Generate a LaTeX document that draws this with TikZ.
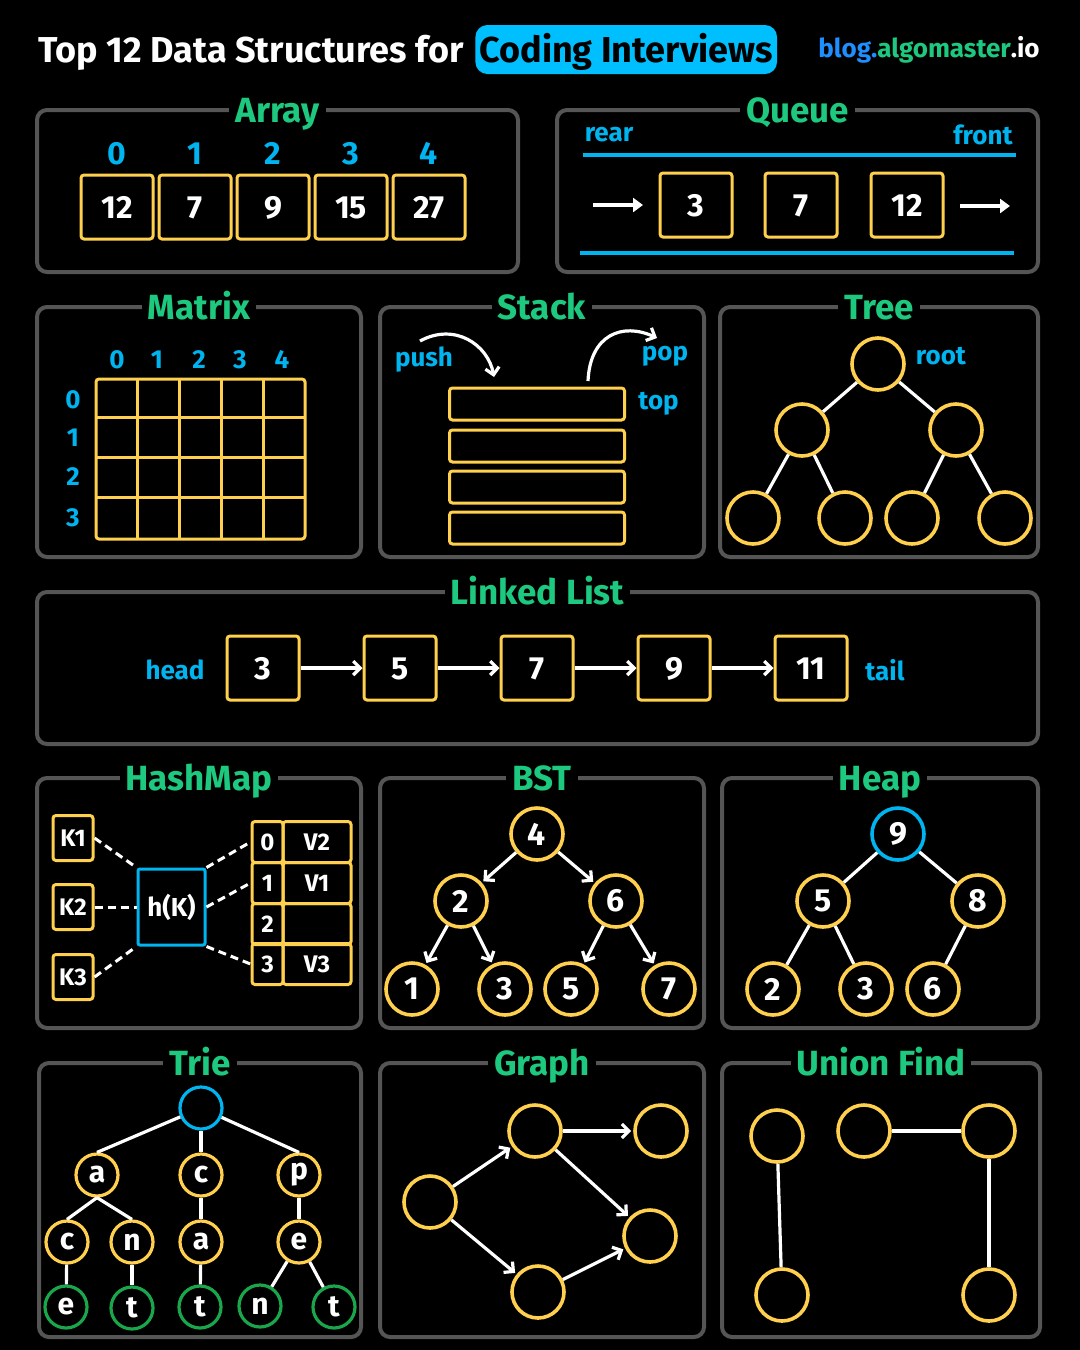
\documentclass[tikz,border=0pt]{standalone}
\usepackage{fontspec}
\setmainfont{Fira Sans}
\usetikzlibrary{arrows.meta,positioning,calc}
\definecolor{hgreen}{HTML}{1DC97E}
\definecolor{hblue}{HTML}{00B4F0}
\definecolor{hcyan}{HTML}{00BFFF}
\definecolor{bblue}{HTML}{1E8FFF}
\definecolor{yel}{HTML}{FFD04D}
\definecolor{fgray}{HTML}{555555}
\definecolor{leaf}{HTML}{1AA64A}
\newcommand{\titf}{\fontsize{18}{18}\selectfont\bfseries}
\newcommand{\secf}{\fontsize{17.5}{17.5}\selectfont\bfseries}
\newcommand{\bigf}{\fontsize{16}{16}\selectfont\bfseries}
\newcommand{\letf}{\fontsize{15}{15}\selectfont\bfseries}
\newcommand{\midf}{\fontsize{13}{13}\selectfont\bfseries}
\newcommand{\smf}{\fontsize{12}{12}\selectfont\bfseries}
\newcommand{\dspanel}[6]{\draw[panel] (#1,#2) rectangle (#3,#4);
  \node[ptitle] (#6) at ({(#1+#3)/2},#2) {#5};}
\tikzset{
  panel/.style={draw=fgray, line width=2pt, rounded corners=5pt},
  ptitle/.style={fill=black, text=hgreen, font=\secf, inner xsep=3pt, inner ysep=1pt, text height=12pt, text depth=0pt},
  cell/.style={draw=yel, line width=1.5pt, rounded corners=1.5pt, text=white, font=\bigf, minimum width=36pt, minimum height=32pt, inner sep=0pt, text height=11pt, text depth=0pt},
  idx/.style={text=hblue, font=\bigf, inner sep=0pt, text height=11pt, text depth=0pt},
  lbl/.style={text=hblue, font=\midf, inner sep=0pt},
  dot/.style={circle, draw=yel, line width=1.8pt, minimum size=26pt, inner sep=0pt, text=white, font=\bigf},
  tdot/.style={circle, draw=yel, line width=1.6pt, minimum size=21pt, inner sep=0pt, text=white, font=\letf},
  yline/.style={draw=yel, line width=1.5pt},
  edge/.style={draw=white, line width=1.6pt},
  arr/.style={edge, -{Straight Barb[length=3.5pt,width=7pt]}},
  farr/.style={edge, -{Triangle[length=5pt,width=7pt]}},
  dsh/.style={draw=white, line width=1.5pt, dash pattern=on 4pt off 2.5pt},
}
\begin{document}
\begin{tikzpicture}[x=0.5pt, y=-0.5pt]
\fill[black] (0,0) rectangle (1080,1350);
\useasboundingbox (0,0) rectangle (1080,1350);

% heading
\node[anchor=base west, text=white, font=\titf, inner sep=0pt] (ttl) at (38,62) {Top 12 Data Structures for};
\node[anchor=west, fill=hcyan, rounded corners=6pt, text=black, font=\titf, minimum height=24.5pt, inner xsep=2pt, text height=12.5pt, text depth=0pt] (hl) at (475,49.5) {Coding Interviews};
\node[anchor=base east, text=white, font=\midf, inner sep=0pt] (blog) at (1040,57) {\textcolor{bblue}{blog.}\textcolor{hgreen}{algomaster}.io};

% panels
\dspanel{37}{110}{518}{272}{Array}{tarr}
\dspanel{557}{110}{1038}{272}{Queue}{tque}
\dspanel{37}{307}{361}{557}{Matrix}{tmat}
\dspanel{380}{307}{704}{557}{Stack}{tstk}
\dspanel{720}{307}{1038}{557}{Tree}{ttre}
\dspanel{37}{592}{1038}{744}{Linked List}{tlst}
\dspanel{37}{778}{361}{1028}{HashMap}{thsh}
\dspanel{380}{778}{704}{1028}{BST}{tbst}
\dspanel{722}{778}{1038}{1028}{Heap}{thep}
\dspanel{39}{1063}{361}{1337}{Trie}{ttri}
\dspanel{380}{1063}{704}{1337}{Graph}{tgra}
\dspanel{722}{1063}{1040}{1337}{Union Find}{tuni}

% array
\foreach \v [count=\i from 0] in {12,7,9,15,27} {
  \node[cell] (a\i) at (117+78*\i,207) {\v};
  \node[idx, above=4.5pt of a\i] (ai\i) {\i};
}

% queue
\draw[draw=hblue, line width=2pt] (583,155) -- (1016,155);
\draw[draw=hblue, line width=2pt] (580,253) -- (1014,253);
\node[lbl] (rear) at (609,135) {rear};
\node[lbl] (front) at (983,135) {front};
\foreach \v/\x [count=\i] in {3/696,7/801,12/907}
  \node[cell] (q\i) at (\x,205) {\v};
\coordinate (qin) at (593,205);
\coordinate (qin2) at (643,205);
\coordinate (qout) at (960,206);
\coordinate (qout2) at (1010,206);
\draw[farr] (qin) -- (qin2);
\draw[farr] (qout) -- (qout2);

% matrix
\draw[yline, rounded corners=1.5pt] (96,379) rectangle (305,539);
\foreach \x in {137,179,221,263} \draw[yline] (\x,379) -- (\x,539);
\foreach \y in {417,457,497} \draw[yline] (96,\y) -- (305,\y);
\foreach \x [count=\i from 0] in {117,157,199,240,282}
  \node[idx, font=\midf, text height=9.5pt] (mc\i) at (\x,359) {\i};
\foreach \y [count=\i from 0] in {399,437,476,517}
  \node[idx, font=\midf, text height=9.5pt] (mr\i) at (73,\y) {\i};

% stack
\foreach \y [count=\i] in {404,446,487,528}
  \node[draw=yel, line width=1.5pt, rounded corners=1.5pt, minimum width=87.5pt, minimum height=16pt] (s\i) at (537,\y) {};
\node[lbl, right=6pt of s1] (top) {top};
\node[lbl] (push) at (424,360) {push};
\node[lbl] (pop) at (665,356) {pop};
\coordinate (pushs) at (420,341);
\coordinate (pushe) at (494,377);
\coordinate (pops) at (588,381);
\coordinate (pope) at (657,338);
\draw[arr] (pushs) .. controls (455,322) and (488,345) .. (pushe);
\draw[arr] (pops) .. controls (590,335) and (622,322) .. (pope);

% tree
\foreach \n/\x/\y in {t0/878/364,t1/802/430,t2/956/430,t3/753/518,t4/845/518,t5/912/518,t6/1005/518}
  \node[dot] (\n) at (\x,\y) {};
\foreach \a/\b in {t0/t1,t0/t2,t1/t3,t1/t4,t2/t5,t2/t6}
  \draw[edge] (\a) -- (\b);
\node[lbl] (root) at (941,356) {root};

% linked list
\foreach \v [count=\i] in {3,5,7,9,11}
  \node[cell] (l\i) at (126+137*\i,668) {\v};
\foreach \a/\b in {l1/l2,l2/l3,l3/l4,l4/l5}
  \draw[arr] (\a) -- (\b);
\node[lbl] (head) at (175,670) {head};
\node[lbl] (tail) at (885,670) {tail};

% hashmap
\foreach \i/\y in {1/838,2/907,3/977}
  \node[cell, font=\smf, text height=8.5pt, minimum width=20pt, minimum height=22.5pt] (k\i) at (73,\y) {K\i};
\node[draw=hblue, line width=1.5pt, rounded corners=1pt, minimum width=33.5pt, minimum height=38pt, text=white, font=\midf] (hash) at (171.5,907) {h(K)};
\foreach \r/\y/\v in {0/842/V2,1/883/V1,2/924/{},3/964/V3} {
  \node[cell, font=\smf, text height=8.5pt, minimum width=15.5pt, minimum height=20.5pt] (hk\r) at (267.5,\y) {\r};
  \node[cell, font=\smf, text height=8.5pt, minimum width=34pt, minimum height=20.5pt] (hv\r) at (317,\y) {\v};
}
\draw[dsh] (k1.east) -- (hash.north west);
\draw[dsh] (k2.east) -- (hash.west);
\draw[dsh] (k3.east) -- (hash.south west);
\draw[dsh] (hash.north east) -- (hk0.west);
\draw[dsh] (hash.east) -- (hk1.west);
\draw[dsh] (hash.south east) -- (hk3.west);

% bst
\foreach \n/\x/\y/\v in {b4/537/834/4,b2/461/901/2,b6/616/901/6,b1/412/989/1,b3/505/989/3,b5/571/989/5,b7/669/989/7}
  \node[dot] (\n) at (\x,\y) {\v};
\foreach \a/\b in {b4/b2,b4/b6,b2/b1,b2/b3,b6/b5,b6/b7}
  \draw[arr, shorten >=1pt] (\a) -- (\b);

% heap
\node[dot, draw=hblue] (h9) at (898,834) {9};
\foreach \n/\x/\y/\v in {h5/823/901/5,h8/978/901/8,h2/773/989/2,h3/866/989/3,h6/933/989/6}
  \node[dot] (\n) at (\x,\y) {\v};
\foreach \a/\b in {h9/h5,h9/h8,h5/h2,h5/h3,h8/h6}
  \draw[edge] (\a) -- (\b);

% trie
\node[tdot, draw=hblue] (r0) at (201,1108) {};
\foreach \n/\x/\y/\v in {ra/97/1175/a,rc/201/1175/c,rp/299/1175/p,rac/67/1242/c,ran/132/1242/n,rca/201/1242/a,rpe/299/1242/e}
  \node[tdot] (\n) at (\x,\y) {\v};
\foreach \n/\x/\y/\v in {race/66/1307/e,rant/132/1308/t,rcat/200/1307/t,rpen/260/1306/n,rpet/334/1307/t}
  \node[tdot, draw=leaf] (\n) at (\x,\y) {\v};
\draw[edge] (r0) -- (ra.north);
\draw[edge] (r0) -- (rc);
\draw[edge] (r0) -- (rp.north);
\draw[edge] (ra.south) -- (rac.north);
\draw[edge] (ra.south) -- (ran.north);
\foreach \a/\b in {rc/rca,rp/rpe,rac/race,ran/rant,rca/rcat,rpe/rpen,rpe/rpet}
  \draw[edge] (\a) -- (\b);

% graph
\foreach \n/\x/\y in {g1/430/1202,g2/535/1131,g3/661/1131,g4/650/1236,g5/538/1292}
  \node[dot] (\n) at (\x,\y) {};
\foreach \a/\b in {g1/g2,g2/g3,g2/g4,g1/g5,g5/g4}
  \draw[arr, shorten >=1pt] (\a) -- (\b);

% union find
\foreach \n/\x/\y in {u1/777/1136,u2/864/1131,u3/989/1131,u4/782/1295,u5/989/1295}
  \node[dot] (\n) at (\x,\y) {};
\foreach \a/\b in {u1/u4,u2/u3,u3/u5}
  \draw[edge] (\a) -- (\b);
\end{tikzpicture}
\end{document}
